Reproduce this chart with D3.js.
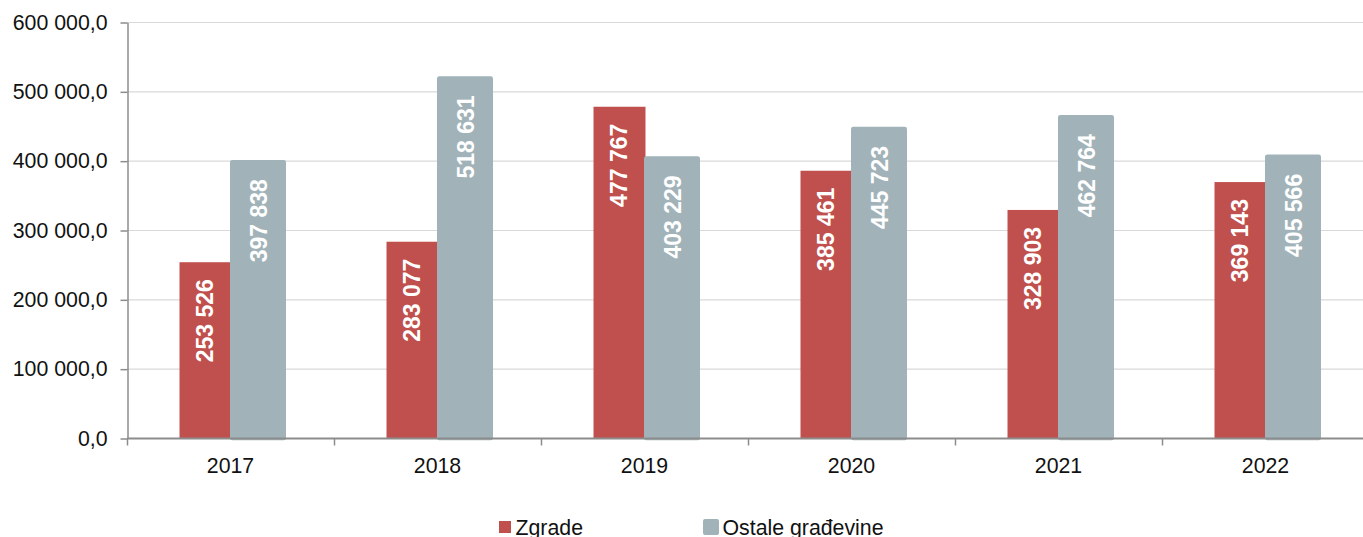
<!DOCTYPE html>
<html>
<head>
<meta charset="utf-8">
<script src="https://cdn.jsdelivr.net/npm/d3@7"></script>
<style>
  body { margin: 0; background: #fff; }
  text { font-family: "Liberation Sans", Arial, sans-serif; }
</style>
</head>
<body>
<div id="chart"></div>
<script>
// data
var categories = ["2017", "2018", "2019", "2020", "2021", "2022"];
var seriesNames = ["Zgrade", "Ostale građevine"];
var zgrade = [253526, 283077, 477767, 385461, 328903, 369143];
var ostale = [397838, 518631, 403229, 445723, 462764, 405566];
var yTicks = [0, 100000, 200000, 300000, 400000, 500000, 600000];
var colors = ["#c0504d", "#a1b3b9"];

function drawChart() {
    var width = 1363, height = 537;
    var plotLeft = 127, plotTop = 22, plotBottom = 438;
    var fontSize = 21.3;

    var locale = d3.formatLocale({ decimal: ",", thousands: " ", grouping: [3], currency: ["", ""] });
    var fmtAxis = locale.format(",.1f");
    var fmtVal = locale.format(",d");

    var svg = d3.select("#chart")
        .append("svg")
        .attr("width", width)
        .attr("height", height);

    var y = d3.scaleLinear().domain([0, 600000]).range([plotBottom, plotTop]);
    var x0 = d3.scaleBand().domain(categories).range([plotLeft, plotLeft + 207 * 6]).padding(0);
    var x1 = d3.scaleBand().domain([0, 1]).range([52.5, 156.5]).padding(0);

    // gridlines
    svg.append("g")
        .selectAll("line")
        .data(yTicks.slice(1))
        .enter()
        .append("line")
        .attr("x1", plotLeft)
        .attr("x2", width)
        .attr("y1", function (d) { return y(d) + 0.5; })
        .attr("y2", function (d) { return y(d) + 0.5; })
        .attr("stroke", "#d9d9d9")
        .attr("stroke-width", 1.2);

    // y axis
    var yAxis = svg.append("g")
        .attr("transform", "translate(" + (plotLeft + 0.5) + ",0.5)")
        .call(d3.axisLeft(y).tickValues(yTicks).tickFormat(fmtAxis).tickSize(7).tickSizeOuter(0).tickPadding(13));
    yAxis.select(".domain").attr("stroke", "#8c8c8c").attr("stroke-width", 1.5);
    yAxis.selectAll(".tick line").attr("stroke", "#8c8c8c").attr("stroke-width", 1.5);
    yAxis.selectAll(".tick text")
        .attr("font-size", fontSize)
        .attr("fill", "#111")
        .style("font-family", "'Liberation Sans', Arial, sans-serif");

    // bars
    var groups = svg.append("g")
        .selectAll("g")
        .data(categories)
        .enter()
        .append("g")
        .attr("transform", function (d) { return "translate(" + (x0(d) - plotLeft) + ",0)"; });

    var bars = groups.selectAll("g.bar")
        .data(function (d, i) {
            return [
                { s: 0, cat: d, v: zgrade[i] },
                { s: 1, cat: d, v: ostale[i] }
            ];
        })
        .enter()
        .append("g")
        .attr("class", "bar");

    bars.append("rect")
        .attr("x", function (d) { return plotLeft + x1(d.s) + (d.s === 1 ? 0.75 : 0); })
        .attr("width", function (d) { return x1.bandwidth() - (d.s === 1 ? 0.5 : 0); })
        .attr("y", function (d) { return y(d.v); })
        .attr("height", function (d) { return y(0) - y(d.v); })
        .attr("fill", function (d) { return colors[d.s]; })
        .attr("stroke", function (d) { return d.s === 1 ? colors[1] : "none"; })
        .attr("stroke-width", 4.5)
        .attr("stroke-linejoin", "round");

    // value labels, rotated, near the top of each bar
    bars.append("text")
        .attr("transform", function (d) {
            var cx = plotLeft + x1(d.s) + x1.bandwidth() / 2 + (d.s === 1 ? 1 : -1);
            return "translate(" + cx + "," + (y(d.v) + 17) + ") rotate(-90)";
        })
        .attr("text-anchor", "end")
        .attr("dy", "0.36em")
        .attr("fill", "#fff")
        .attr("font-weight", "bold")
        .attr("font-size", 23)
        .text(function (d) { return fmtVal(d.v); });

    // x axis
    var xAxis = svg.append("g")
        .attr("transform", "translate(0," + (plotBottom + 0.5) + ")");
    xAxis.append("line")
        .attr("x1", plotLeft)
        .attr("x2", width)
        .attr("stroke", "#8c8c8c")
        .attr("stroke-width", 2);
    xAxis.selectAll("line.tk")
        .data(categories)
        .enter()
        .append("line")
        .attr("class", "tk")
        .attr("x1", function (d) { return x0(d) + 0.5; })
        .attr("x2", function (d) { return x0(d) + 0.5; })
        .attr("y1", 0)
        .attr("y2", 7)
        .attr("stroke", "#8c8c8c")
        .attr("stroke-width", 1.5);
    xAxis.selectAll("text")
        .data(categories)
        .enter()
        .append("text")
        .attr("x", function (d) { return x0(d) + x0.bandwidth() / 2; })
        .attr("y", 34.5)
        .attr("text-anchor", "middle")
        .attr("font-size", fontSize)
        .attr("fill", "#111")
        .text(function (d) { return d; });

    // legend
    var legend = svg.append("g");
    legend.append("rect")
        .attr("x", 499).attr("y", 521).attr("width", 12).attr("height", 12)
        .attr("fill", colors[0]);
    legend.append("text")
        .attr("x", 515.5).attr("y", 535)
        .attr("font-size", fontSize).attr("fill", "#111")
        .text(seriesNames[0]);
    legend.append("rect")
        .attr("x", 705).attr("y", 521).attr("width", 12).attr("height", 12)
        .attr("fill", colors[1])
        .attr("stroke", colors[1])
        .attr("stroke-width", 4)
        .attr("stroke-linejoin", "round");
    legend.append("text")
        .attr("x", 722.5).attr("y", 535)
        .attr("font-size", fontSize).attr("fill", "#111")
        .text(seriesNames[1]);
}

drawChart();
</script>
</body>
</html>
